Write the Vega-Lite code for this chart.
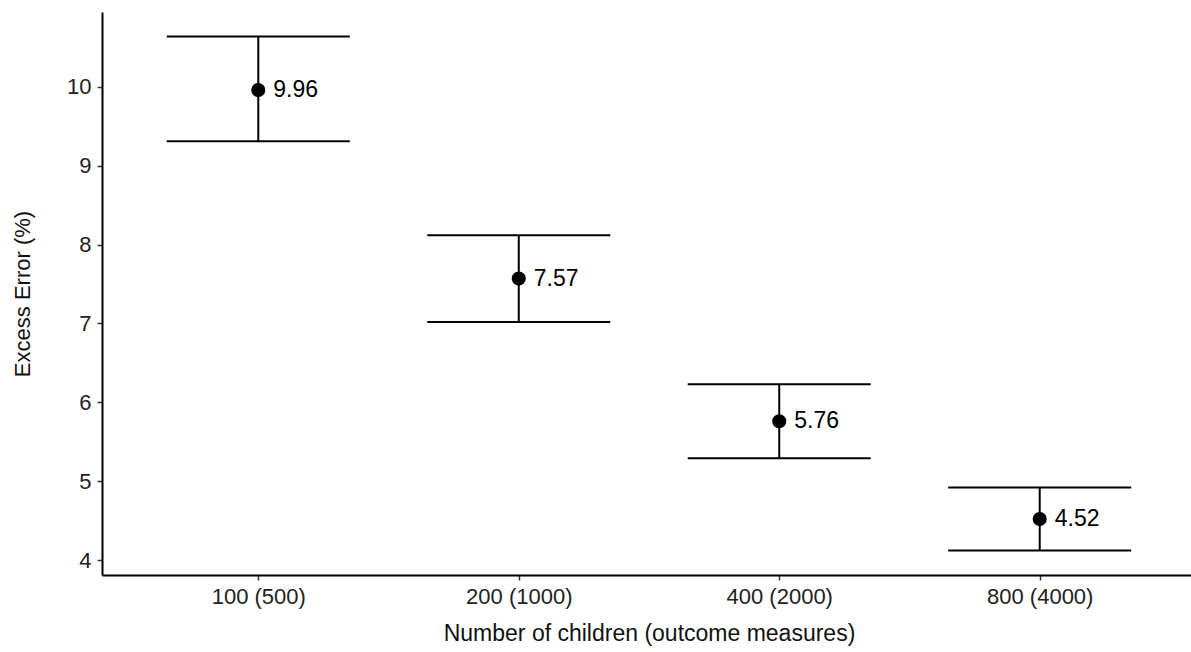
{
  "$schema": "https://vega.github.io/schema/vega-lite/v6.json",
  "autosize": {"type": "none"},
  "padding": {"left": 102, "top": 12, "right": 0, "bottom": 77},
  "width": 1094,
  "height": 563,
  "background": "white",
  "config": {
    "font": "Liberation Sans",
    "view": {"stroke": null},
    "axis": {"grid": false}
  },
  "data": {
    "values": [
      {"group": "100 (500)", "mean": 9.96, "lo": 9.31, "hi": 10.64, "label": "9.96"},
      {"group": "200 (1000)", "mean": 7.57, "lo": 7.02, "hi": 8.12, "label": "7.57"},
      {"group": "400 (2000)", "mean": 5.76, "lo": 5.29, "hi": 6.23, "label": "5.76"},
      {"group": "800 (4000)", "mean": 4.52, "lo": 4.12, "hi": 4.92, "label": "4.52"}
    ]
  },
  "encoding": {
    "x": {
      "field": "group",
      "type": "ordinal",
      "sort": null,
      "scale": {"type": "point", "padding": 0.6},
      "axis": {
        "title": "Number of children (outcome measures)",
        "labelAngle": 0,
        "labelFontSize": 22,
        "labelColor": "#222222",
        "labelPadding": 6,
        "tickSize": 5,
        "tickColor": "#333333",
        "tickWidth": 1.5,
        "domainColor": "black",
        "domainWidth": 2,
        "titleFontSize": 23,
        "titleFontWeight": "normal",
        "titleColor": "#111111",
        "titlePadding": 15
      }
    }
  },
  "layer": [
    {
      "mark": {"type": "rule", "color": "black", "strokeWidth": 2},
      "encoding": {
        "y": {
          "field": "lo",
          "type": "quantitative",
          "scale": {"domain": [3.81, 10.95], "nice": false, "zero": false},
          "axis": {
            "title": "Excess Error (%)",
            "values": [4, 5, 6, 7, 8, 9, 10],
            "format": "d",
            "labelFontSize": 22,
            "labelColor": "#222222",
            "labelPadding": 6,
            "tickSize": 5,
            "tickColor": "#333333",
            "tickWidth": 1.5,
            "domainColor": "black",
            "domainWidth": 2,
            "titleFontSize": 22,
            "titleFontWeight": "normal",
            "titleColor": "#111111",
            "titlePadding": 32
          }
        },
        "y2": {"field": "hi"}
      }
    },
    {
      "mark": {"type": "tick", "color": "black", "opacity": 1, "size": 183, "thickness": 2, "orient": "horizontal"},
      "encoding": {"y": {"field": "lo", "type": "quantitative"}}
    },
    {
      "mark": {"type": "tick", "color": "black", "opacity": 1, "size": 183, "thickness": 2, "orient": "horizontal"},
      "encoding": {"y": {"field": "hi", "type": "quantitative"}}
    },
    {
      "mark": {"type": "point", "filled": true, "color": "black", "opacity": 1, "size": 200},
      "encoding": {"y": {"field": "mean", "type": "quantitative"}}
    },
    {
      "mark": {"type": "text", "align": "left", "baseline": "middle", "dx": 15, "fontSize": 23, "color": "black"},
      "encoding": {
        "y": {"field": "mean", "type": "quantitative"},
        "text": {"field": "label"}
      }
    }
  ]
}
